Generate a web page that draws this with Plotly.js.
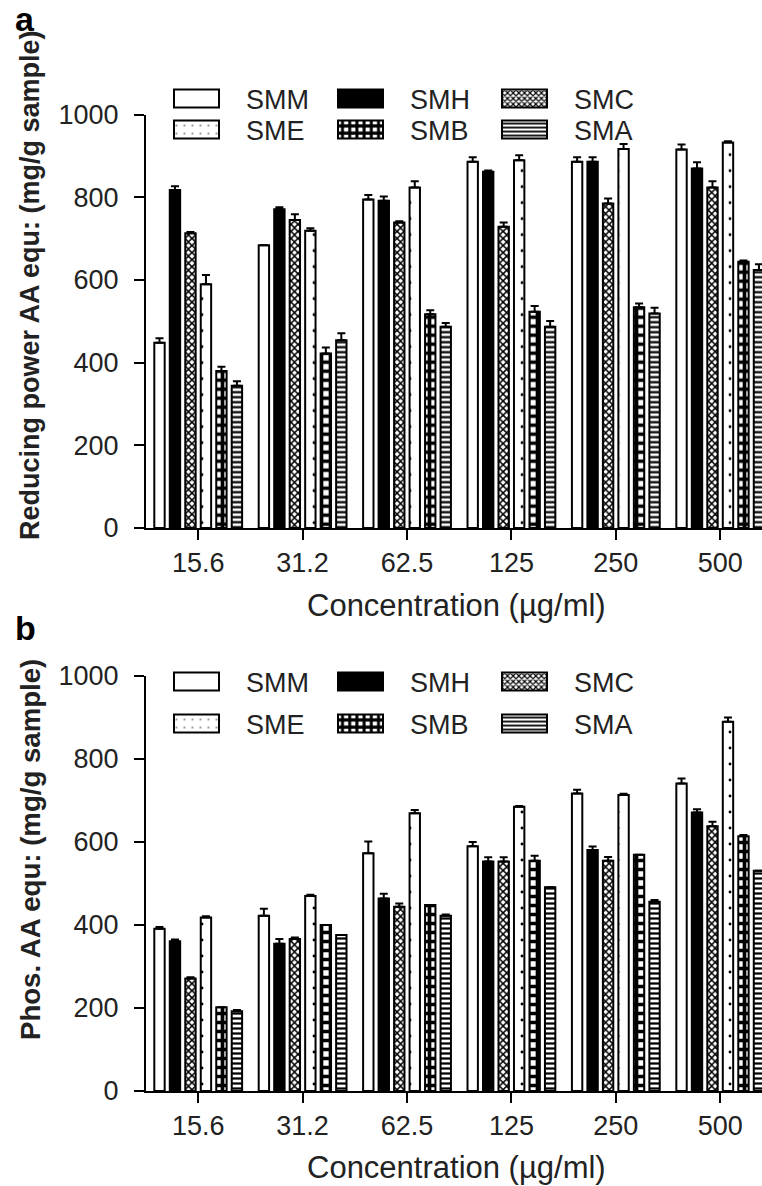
<!DOCTYPE html>
<html><head><meta charset="utf-8">
<script src="https://cdn.plot.ly/plotly-3.0.1.min.js"></script>
<style>html,body{margin:0;padding:0;background:#fff}#chart{width:762px;height:1186px}</style>
</head><body><div id="chart"></div>
<script>
// ---------- data ----------
const categories = ['15.6', '31.2', '62.5', '125', '250', '500'];
const seriesNames = ['SMM', 'SMH', 'SMC', 'SME', 'SMB', 'SMA'];

// Panel a: Reducing power AA equ (mg/g sample)
const redSMM = [448, 684, 795, 886, 886, 916];
const redSMH = [818, 771, 792, 862, 886, 870];
const redSMC = [713, 745, 739, 729, 785, 824];
const redSME = [590, 719, 824, 890, 917, 933];
const redSMB = [380, 422, 517, 523, 534, 644];
const redSMA = [344, 454, 487, 487, 519, 624];
const redErrSMM = [11, 0, 11, 11, 11, 12];
const redErrSMH = [9, 5, 10, 3, 11, 15];
const redErrSMC = [3, 14, 3, 10, 12, 15];
const redErrSME = [22, 6, 15, 12, 12, 3];
const redErrSMB = [10, 15, 10, 14, 9, 3];
const redErrSMA = [11, 17, 9, 14, 14, 14];

// Panel b: Phos. AA equ (mg/g sample)
const phosSMM = [391, 422, 573, 590, 717, 741];
const phosSMH = [361, 355, 464, 553, 581, 671];
const phosSMC = [271, 366, 444, 553, 555, 638];
const phosSME = [418, 470, 669, 685, 713, 890];
const phosSMB = [202, 400, 448, 555, 569, 614];
const phosSMA = [192, 376, 422, 491, 456, 531];
const phosErrSMM = [4, 17, 28, 10, 9, 12];
const phosErrSMH = [4, 11, 11, 10, 8, 8];
const phosErrSMC = [3, 4, 8, 10, 9, 11];
const phosErrSME = [3, 3, 8, 2, 3, 10];
const phosErrSMB = [0, 0, 0, 12, 0, 3];
const phosErrSMA = [3, 0, 3, 0, 4, 0];

// ---------- styles ----------
const styles = {
  SMM: {color: 'white', pattern: {shape: ''}},
  SMH: {color: 'black', pattern: {shape: ''}},
  SMC: {color: 'white', pattern: {shape: 'x', size: 5, solidity: 0.5, fgcolor: 'black', bgcolor: 'white', fillmode: 'replace'}},
  SME: {color: 'white', pattern: {shape: '.', size: 16, solidity: 0.025, fgcolor: 'black', bgcolor: 'white', fillmode: 'replace'}},
  SMB: {color: 'white', pattern: {shape: '+', size: 9, solidity: 0.65, fgcolor: 'black', bgcolor: 'white', fillmode: 'replace'}},
  SMA: {color: 'white', pattern: {shape: '-', size: 5, solidity: 0.45, fgcolor: 'black', bgcolor: 'white', fillmode: 'replace'}}
};

const redVals = [redSMM, redSMH, redSMC, redSME, redSMB, redSMA];
const redErrs = [redErrSMM, redErrSMH, redErrSMC, redErrSME, redErrSMB, redErrSMA];
const phosVals = [phosSMM, phosSMH, phosSMC, phosSME, phosSMB, phosSMA];
const phosErrs = [phosErrSMM, phosErrSMH, phosErrSMC, phosErrSME, phosErrSMB, phosErrSMA];

function makeTrace(name, y, err, xa, ya, legendId) {
  const s = styles[name];
  return {
    type: 'bar', name: name, x: categories, y: y, xaxis: xa, yaxis: ya,
    legend: legendId,
    marker: {color: s.color, pattern: s.pattern, line: {color: 'black', width: 2}},
    error_y: {type: 'data', symmetric: false, array: err, arrayminus: err.map(() => 0),
              color: 'black', thickness: 2, width: 4},
    hoverinfo: 'x+y+name'
  };
}

const traces = [];
seriesNames.forEach((n, i) => traces.push(makeTrace(n, redVals[i], redErrs[i], 'x', 'y', i < 3 ? 'legend' : 'legend2')));
seriesNames.forEach((n, i) => traces.push(makeTrace(n, phosVals[i], phosErrs[i], 'x2', 'y2', i < 3 ? 'legend3' : 'legend4')));

const W = 762, H = 1186;
const px = v => v / W;
const py = v => 1 - v / H;

const txtColor = '#222';
const FONT = 'Liberation Sans, Arial, sans-serif';

const xaxisBase = {
  type: 'category', range: [-0.5, 5.4], domain: [px(146), 1],
  showline: true, linecolor: 'black', linewidth: 2,
  ticks: 'outside', ticklen: 10, tickwidth: 2, tickcolor: 'black',
  tickfont: {family: FONT, size: 27, color: txtColor},
  ticklabelstandoff: 0, showgrid: false, zeroline: false, automargin: false, fixedrange: true
};
const yaxisBase = {
  range: [0, 1000], tickvals: [0, 200, 400, 600, 800, 1000],
  showline: true, linecolor: 'black', linewidth: 2,
  ticks: 'outside', ticklen: 10, tickwidth: 2, tickcolor: 'black',
  tickfont: {family: FONT, size: 27, color: txtColor},
  ticklabelstandoff: 10, showgrid: false, zeroline: false, automargin: false, fixedrange: true
};

const legendBase = {
  orientation: 'h', xanchor: 'left', yanchor: 'middle',
  font: {family: FONT, size: 27, color: txtColor},
  bgcolor: 'rgba(0,0,0,0)', borderwidth: 0,
  itemwidth: 89, entrywidth: 60, entrywidthmode: 'pixels',
  itemclick: false, itemdoubleclick: false
};

const layout = {
  width: W, height: H,
  margin: {l: 0, r: 0, t: 0, b: 0},
  paper_bgcolor: 'white', plot_bgcolor: 'white',
  barmode: 'group', bargap: 0.11, bargroupgap: 0.33,
  xaxis: Object.assign({}, xaxisBase, {anchor: 'y'}),
  yaxis: Object.assign({}, yaxisBase, {anchor: 'x', domain: [py(528), py(114.7)]}),
  xaxis2: Object.assign({}, xaxisBase, {anchor: 'y2'}),
  yaxis2: Object.assign({}, yaxisBase, {anchor: 'x2', domain: [py(1091), py(676)]}),
  legend: Object.assign({}, legendBase, {x: px(147), y: py(99)}),
  legend2: Object.assign({}, legendBase, {x: px(147), y: py(130)}),
  legend3: Object.assign({}, legendBase, {x: px(147), y: py(682)}),
  legend4: Object.assign({}, legendBase, {x: px(147), y: py(724)}),
  showlegend: true,
  annotations: [
    {text: '<b>a</b>', x: px(25), y: py(19), xref: 'paper', yref: 'paper', showarrow: false,
     xanchor: 'center', yanchor: 'middle', font: {family: FONT, size: 34, color: 'black'}},
    {text: '<b>b</b>', x: px(25), y: py(628), xref: 'paper', yref: 'paper', showarrow: false,
     xanchor: 'center', yanchor: 'middle', font: {family: FONT, size: 34, color: 'black'}},
    {text: '<b>Reducing power AA equ: (mg/g sample)</b>', x: px(30), y: py(285), xref: 'paper', yref: 'paper',
     showarrow: false, textangle: -90, xanchor: 'center', yanchor: 'middle',
     font: {family: FONT, size: 27, color: txtColor}},
    {text: '<b>Phos. AA equ: (mg/g sample)</b>', x: px(30), y: py(850), xref: 'paper', yref: 'paper',
     showarrow: false, textangle: -90, xanchor: 'center', yanchor: 'middle',
     font: {family: FONT, size: 27.6, color: txtColor}},
    {text: 'Concentration (µg/ml)', x: px(456), y: py(605), xref: 'paper', yref: 'paper',
     showarrow: false, xanchor: 'center', yanchor: 'middle',
     font: {family: FONT, size: 31, color: txtColor}},
    {text: 'Concentration (µg/ml)', x: px(456), y: py(1167), xref: 'paper', yref: 'paper',
     showarrow: false, xanchor: 'center', yanchor: 'middle',
     font: {family: FONT, size: 31, color: txtColor}}
  ]
};

Plotly.newPlot('chart', traces, layout, {staticPlot: true, displayModeBar: false}).then(gd => {
  // enlarge legend swatches to wide rectangles like the original figure
  gd.querySelectorAll('.legendpoints path').forEach(p => {
    p.setAttribute('d', 'M22.5,9H-22.5V-9H22.5Z');
  });
});
</script>
</body></html>
